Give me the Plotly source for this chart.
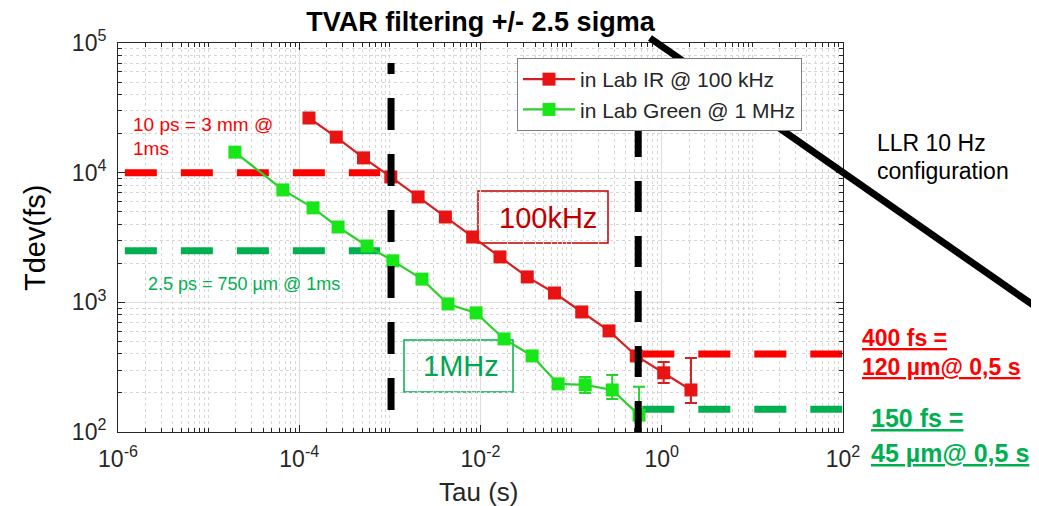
import plotly.graph_objects as go

# ---------------- data ----------------
tau_ir = [1.28e-4, 2.56e-4, 5.12e-4, 1.024e-3, 2.048e-3, 4.096e-3, 8.192e-3,
          0.0164, 0.0328, 0.0655, 0.131, 0.262, 0.524, 1.05, 2.10]
tdev_ir = [26400, 18800, 13000, 9270, 6500, 4550, 3190, 2240, 1570, 1180,
           843, 602, 386, 286, 211]
err_ir_plus = [0, 0, 0, 0, 0, 0, 0, 0, 0, 0, 0, 0, 0, 61, 161]
err_ir_minus = [0, 0, 0, 0, 0, 0, 0, 0, 0, 0, 0, 0, 0, 47, 44]

tau_green = [1.95e-5, 6.6e-5, 1.42e-4, 2.68e-4, 5.6e-4, 1.08e-3, 2.26e-3,
             4.38e-3, 8.93e-3, 0.0182, 0.0371, 0.0719, 0.143, 0.284, 0.562]
tdev_green = [14400, 7360, 5350, 3810, 2720, 2090, 1510, 972, 829, 522,
              386, 235, 231, 211, 135]
err_green_plus = [0, 0, 0, 0, 0, 0, 0, 0, 0, 0, 0, 0, 35, 64, 88]
err_green_minus = [0, 0, 0, 0, 0, 0, 0, 0, 0, 0, 0, 0, 31, 31, 85]

series_names = ["in Lab IR @ 100 kHz", "in Lab Green @ 1 MHz"]

# reference levels
limit_1ms = [10000, 2500]        # fs  (10 ps, 2.5 ps)
limit_05s = [400, 150]           # fs
tau_left_span = [1.19e-6, 7.8e-4]
tau_right_span = [0.61, 98]
tau_1ms = 1.03e-3
tau_1ms_span = [148, 70000]
tau_05s = 0.55
tau_05s_span = [100, 22500]

x_tickvals = [1e-6, 1e-4, 1e-2, 1, 1e2]
x_ticktext = ["10<sup>-6</sup>", "10<sup>-4</sup>", "10<sup>-2</sup>", "10<sup>0</sup>", "10<sup>2</sup>"]
y_tickvals = [1e2, 1e3, 1e4, 1e5]
y_ticktext = ["10<sup>2</sup>", "10<sup>3</sup>", "10<sup>4</sup>", "10<sup>5</sup>"]

# ---------------- style ----------------
FONT = "Liberation Sans, Arial, Helvetica, sans-serif"
RED_LINE, RED_MK = "#d42020", "#e81414"
GRN_LINE, GRN_MK = "#2ad12a", "#19e619"
DASH_RED, DASH_GRN = "#ff0000", "#00b050"
W, H = 1039, 506
OFF = 8                      # page body margin offset (screen px)
L, R, T, B = 118, 843, 43, 432   # plot area in screen pixels


def px(x):
    return (x - L) / (R - L)


def py(y):
    return (B - y) / (B - T)


def minor_vals(lo, hi):
    out = []
    for e in range(lo, hi):
        for k in range(2, 10):
            out.append(k * 10.0 ** e)
    return out


fig = go.Figure()

# horizontal dashed levels
for lvl, col in zip(limit_1ms, [DASH_RED, DASH_GRN]):
    fig.add_trace(go.Scatter(x=tau_left_span, y=[lvl, lvl], mode="lines",
                             line=dict(color=col, width=7, dash="32px,24px"),
                             showlegend=False, hoverinfo="skip"))
for lvl, col in zip(limit_05s, [DASH_RED, DASH_GRN]):
    fig.add_trace(go.Scatter(x=tau_right_span, y=[lvl, lvl], mode="lines",
                             line=dict(color=col, width=7, dash="32px,24px"),
                             showlegend=False, hoverinfo="skip"))

# data series
fig.add_trace(go.Scatter(
    x=tau_ir, y=tdev_ir, name=series_names[0], mode="lines+markers",
    line=dict(color=RED_LINE, width=2.2),
    marker=dict(symbol="square", size=13, color=RED_MK),
    error_y=dict(type="data", symmetric=False, array=err_ir_plus,
                 arrayminus=err_ir_minus, color=RED_LINE, thickness=2, width=6)))
fig.add_trace(go.Scatter(
    x=tau_green, y=tdev_green, name=series_names[1], mode="lines+markers",
    line=dict(color=GRN_LINE, width=2.2),
    marker=dict(symbol="square", size=13, color=GRN_MK),
    error_y=dict(type="data", symmetric=False, array=err_green_plus,
                 arrayminus=err_green_minus, color=GRN_LINE, thickness=2, width=6)))

# black vertical dashed markers (drawn bottom -> top)
fig.add_trace(go.Scatter(x=[tau_1ms, tau_1ms], y=tau_1ms_span, mode="lines",
                         line=dict(color="black", width=7, dash="32px,24px"),
                         showlegend=False, hoverinfo="skip"))
fig.add_trace(go.Scatter(x=[tau_05s, tau_05s], y=tau_05s_span, mode="lines",
                         line=dict(color="black", width=7, dash="31px,24px"),
                         showlegend=False, hoverinfo="skip"))

axis_common = dict(
    type="log", showline=True, linecolor="#262626", linewidth=1, mirror="ticks",
    ticks="inside", ticklen=7, tickcolor="#262626",
    showgrid=True, gridcolor="#dedede", gridwidth=1, zeroline=False,
    tickfont=dict(family=FONT, size=23, color="#262626"),
)

fig.update_xaxes(
    **axis_common, range=[-6, 2], tickmode="array",
    tickvals=x_tickvals, ticktext=x_ticktext, ticklabelstandoff=6,
    minor=dict(tickmode="array", tickvals=minor_vals(-6, 2) + [1e-5, 1e-3, 1e-1, 10],
               ticks="inside", ticklen=4, tickcolor="#262626",
               showgrid=True, gridcolor="#d6d6d6", griddash="dot", gridwidth=1),
)
fig.update_yaxes(
    **axis_common, range=[2, 5], tickmode="array",
    tickvals=y_tickvals, ticktext=y_ticktext, ticklabelstandoff=6,
    minor=dict(tickmode="array", tickvals=minor_vals(2, 5),
               ticks="inside", ticklen=4, tickcolor="#262626",
               showgrid=True, gridcolor="#d6d6d6", griddash="dot", gridwidth=1),
)

shapes = [
    # 100kHz box
    dict(type="rect", xref="paper", yref="paper", x0=px(478), x1=px(608), y0=py(243), y1=py(191),
         line=dict(color="#c00000", width=1.5), fillcolor="white", layer="between"),
    # 1MHz box
    dict(type="rect", xref="paper", yref="paper", x0=px(404), x1=px(513), y0=py(392), y1=py(340),
         line=dict(color="#00b050", width=1.5), fillcolor="white", layer="between"),
    # diagonal black line
    dict(type="line", xref="paper", yref="paper", x0=px(650), y0=py(38), x1=px(1033), y1=py(305),
         line=dict(color="black", width=7), layer="above"),
]

ann = []


def add_text(text, x, y, size, color, xanchor="left", angle=0):
    ann.append(dict(text=text, xref="paper", yref="paper", x=px(x), y=py(y),
                    xanchor=xanchor, yanchor="middle", showarrow=False, textangle=angle,
                    font=dict(family=FONT, size=size, color=color)))


add_text("10 ps = 3 mm @", 131, 125, 19, "#ff0000")
add_text("1ms", 131, 148, 19, "#ff0000")
add_text("2.5 ps = 750 µm @ 1ms", 146, 284, 18, "#00b050")
add_text("100kHz", 548, 218, 29, "#c00000", xanchor="center")
add_text("1MHz", 461, 366, 29, "#00a650", xanchor="center")
add_text("LLR 10 Hz", 875, 143, 23, "#000000")
add_text("configuration", 875, 171, 23, "#000000")
add_text("<b><u>400 fs =</u></b>", 860, 338, 23, "#ff0000")
add_text("<b><u>120 µm@ 0,5 s</u></b>", 860, 367, 23, "#ff0000")
add_text("<b><u>150 fs =</u></b>", 869, 418, 25, "#00b050")
add_text("<b><u>45 µm@ 0,5 s</u></b>", 869, 453, 25, "#00b050")
add_text("Tdev(fs)", 35, 238, 29, "#000000", xanchor="center", angle=-90)
add_text("Tau (s)", 478, 492, 26, "#262626", xanchor="center")

fig.update_layout(
    width=W, height=H,
    margin=dict(l=L - OFF, r=W - (R - OFF), t=T - OFF, b=H - (B - OFF)),
    paper_bgcolor="white", plot_bgcolor="white",
    title=dict(text="<b>TVAR filtering +/- 2.5 sigma</b>", xref="paper", x=0.5, xanchor="center",
               yref="container", y=1 - (22 - OFF) / H, yanchor="middle",
               font=dict(family=FONT, size=27, color="#000000")),
    legend=dict(x=px(517), y=py(58), xanchor="left", yanchor="top",
                bgcolor="white", bordercolor="#7f7f7f", borderwidth=1,
                font=dict(family=FONT, size=21, color="#262626"),
                itemwidth=52, tracegroupgap=0),
    shapes=shapes, annotations=ann,
    font=dict(family=FONT),
)

fig.write_html("out.html")
